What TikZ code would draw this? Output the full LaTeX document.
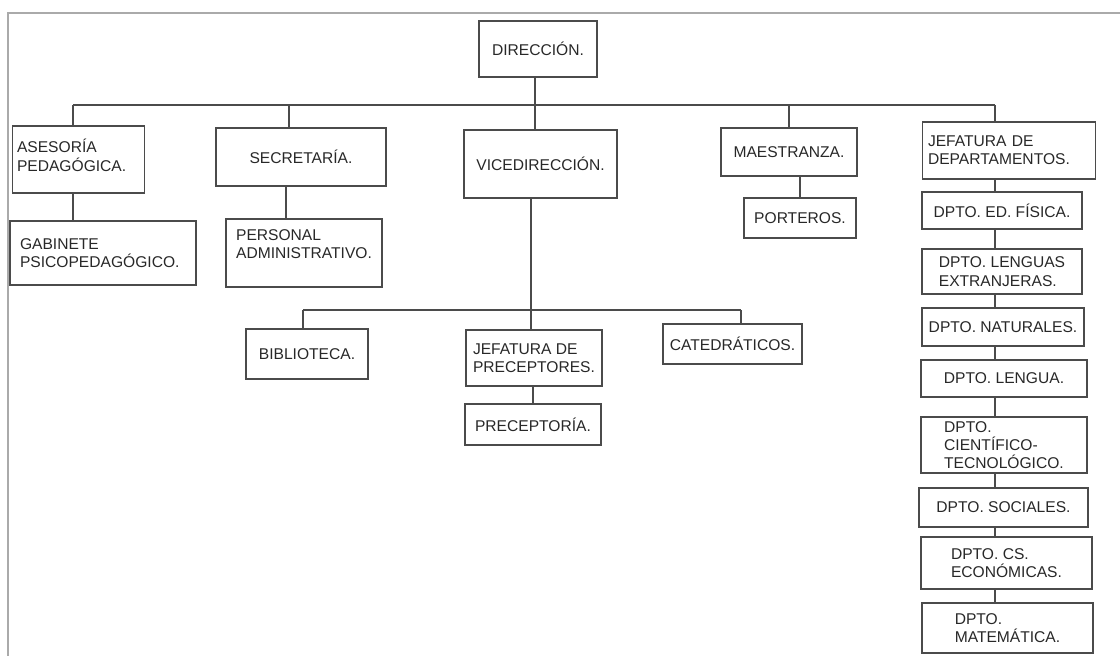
\documentclass[tikz,border=0pt]{standalone}
\usepackage{fontspec}
\setmainfont{Liberation Sans}
\usetikzlibrary{calc}
\definecolor{BoxLine}{RGB}{75,75,75}
\definecolor{FrameLine}{RGB}{170,170,170}
\definecolor{Ink}{RGB}{40,40,40}
\newcommand{\orgfont}{\fontsize{15.6}{18.3}\selectfont}

\begin{document}
\begin{tikzpicture}[x=1pt,y=-1pt,
    box/.style={draw=BoxLine, fill=white, line width=1.2pt, inner sep=2pt, align=left, font=\orgfont, text=Ink},
    link/.style={draw=BoxLine, line width=1.2pt}]
  \useasboundingbox (0,0) rectangle (1120,656);
  % page frame
  \draw[FrameLine, line width=2.4pt] (8,656) -- (8,13) -- (1120,13);

  % top level
  \node[box, minimum width=118pt, minimum height=56pt] (dir) at (538,49) {DIRECCIÓN.};

  % second level
  \node[box, minimum width=132pt, minimum height=67pt, text width=123pt, text depth=27pt] (ases) at (78.5,159.5) {ASESORÍA\\PEDAGÓGICA.};
  \node[box, minimum width=170pt, minimum height=58pt] (secr) at (301,157) {SECRETARÍA.};
  \node[box, minimum width=153pt, minimum height=68pt] (vice) at (540.5,164) {VICEDIRECCIÓN.};
  \node[box, minimum width=136pt, minimum height=48pt] (maes) at (789,152) {MAESTRANZA.};
  \node[box, minimum width=173pt, minimum height=57pt, text width=162pt] (jdep) at (1009,150.5) {JEFATURA DE\\DEPARTAMENTOS.};

  % third level
  \node[box, minimum width=186pt, minimum height=64pt, text width=166pt] (gab) at (103,253) {GABINETE\\PSICOPEDAGÓGICO.};
  \node[box, minimum width=156pt, minimum height=68pt, text depth=18pt] (pers) at (304,253) {PERSONAL\\ADMINISTRATIVO.};
  \node[box, minimum width=112pt, minimum height=40pt] (port) at (800,218) {PORTEROS.};

  % vicedireccion branch
  \node[box, minimum width=122pt, minimum height=50pt] (bib) at (307,354) {BIBLIOTECA.};
  \node[box, minimum width=136pt, minimum height=56pt] (jpre) at (534,358) {JEFATURA DE\\PRECEPTORES.};
  \node[box, minimum width=139pt, minimum height=40pt] (cat) at (732.5,344) {CATEDRÁTICOS.};
  \node[box, minimum width=136pt, minimum height=41pt] (prec) at (533,424.5) {PRECEPTORÍA.};

  % departamentos
  \node[box, minimum width=160pt, minimum height=37pt] (edf) at (1002,210.5) {DPTO. ED. FÍSICA.};
  \node[box, minimum width=160pt, minimum height=45pt] (lext) at (1002,271.5) {DPTO. LENGUAS\\EXTRANJERAS.};
  \node[box, minimum width=162pt, minimum height=38pt] (nat) at (1003,327) {DPTO. NATURALES.};
  \node[box, minimum width=166pt, minimum height=37pt] (leng) at (1004,378.5) {DPTO. LENGUA.};
  \node[box, minimum width=166pt, minimum height=56pt] (cien) at (1004,445) {DPTO.\\CIENTÍFICO-\\TECNOLÓGICO.};
  \node[box, minimum width=169pt, minimum height=39pt] (soc) at (1003.5,507.5) {DPTO. SOCIALES.};
  \node[box, minimum width=171pt, minimum height=52pt] (eco) at (1006.5,563) {DPTO. CS.\\ECONÓMICAS.};
  \node[box, minimum width=171pt, minimum height=50pt] (mat) at (1007.5,628) {DPTO.\\MATEMÁTICA.};

  % connectors
  \coordinate (busL) at (73,105);
  \coordinate (busR) at (995,105);
  \coordinate (subL) at (303,310);
  \coordinate (subR) at (741,310);
  \draw[link] (busL) -- (busR);
  \draw[link] ([xshift=-3pt]dir.south) -- ([xshift=-3pt]dir.south |- vice.north);
  \draw[link] (busL) -- (busL |- ases.north);
  \draw[link] ([xshift=-12pt]secr.north) -- ([xshift=-12pt]secr.north |- busL);
  \draw[link] (maes.north) -- (maes.north |- busL);
  \draw[link] (busR) -- (busR |- jdep.north);
  \draw[link] (busL |- ases.south) -- (busL |- gab.north);
  \draw[link] ([xshift=-15pt]secr.south) -- ([xshift=-15pt]secr.south |- pers.north);
  \draw[link] (port.north |- maes.south) -- (port.north);
  \draw[link] ([xshift=-3pt]jpre.north |- vice.south) -- ([xshift=-3pt]jpre.north);
  \draw[link] (subL) -- (subR);
  \draw[link] (subL) -- (subL |- bib.north);
  \draw[link] (subR) -- (subR |- cat.north);
  \draw[link] (prec.north |- jpre.south) -- (prec.north);
  \foreach \a/\b in {jdep/edf, edf/lext, lext/nat, nat/leng, leng/cien, cien/soc, soc/eco, eco/mat}
    \draw[link] (\a.south -| busR) -- (\b.north -| busR);
\end{tikzpicture}
\end{document}
